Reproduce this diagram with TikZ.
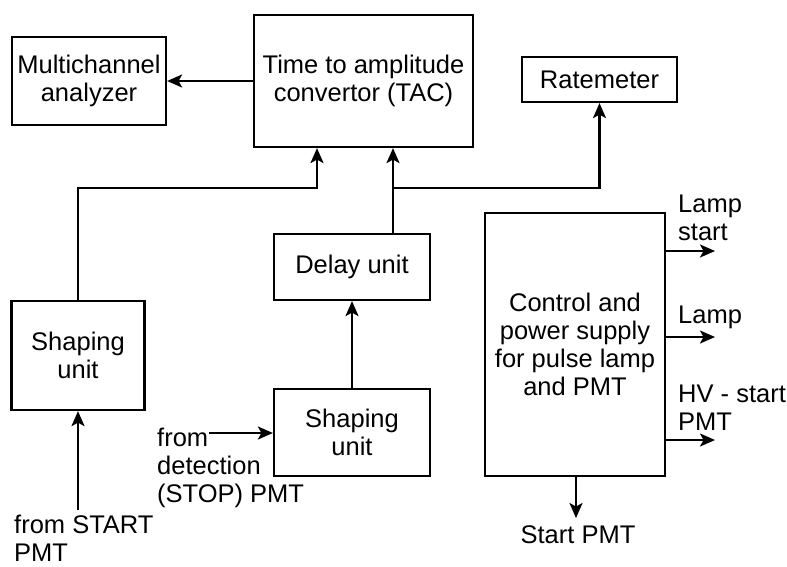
\documentclass[tikz,border=0pt]{standalone}
\usepackage{fontspec}
\setmainfont{Liberation Sans}
\usetikzlibrary{arrows.meta}
\tikzset{
  box/.style={draw, line width=2.2pt, rectangle, align=center, inner sep=0pt},
  lbl/.style={inner sep=0pt, anchor=base west},
  arr/.style={line width=2.2pt, line join=miter, -{Stealth[length=15pt, width=13pt, inset=3.5pt]}},
}
\newcommand{\lines}[1]{\begin{tabular}[t]{@{}l@{}}#1\end{tabular}}
\begin{document}
\begin{tikzpicture}[x=1pt, y=-1pt,
  every node/.style={font=\fontsize{25.5}{28}\selectfont}]
\useasboundingbox (0,0) rectangle (787,566);

% blocks
\node[box, minimum width=154pt, minimum height=88pt]  (mca)   at (89,81)      {Multichannel\\analyzer};
\node[box, minimum width=219pt, minimum height=132pt] (tac)   at (363.5,81)   {Time to amplitude\\convertor (TAC)};
\node[box, minimum width=155pt, minimum height=45pt]  (rate)  at (599.5,79.5) {Ratemeter};
\node[box, minimum width=156pt, minimum height=66pt]  (delay) at (352,267)    {Delay unit};
\node[box, minimum width=156pt, minimum height=87pt]  (shR)   at (352,432.5)  {Shaping\\unit};
\node[box, minimum width=133pt, minimum height=109pt] (shL)   at (78,355.5)   {Shaping\\unit};
\node[box, minimum width=180pt, minimum height=263pt] (ctrl)  at (575,344.5)
  {Control and\\power supply\\for pulse lamp\\and PMT};

% junctions and free ends
\coordinate (j1) at (317,188);
\coordinate (j2) at (393,188);
\coordinate (s1) at (78,510);
\coordinate (s2) at (209,433);
\coordinate (o1) at (715,251);
\coordinate (o2) at (715,337);
\coordinate (o3) at (715,440);
\coordinate (o4) at (576,518);

% signal paths
\draw[arr] (tac) -- (mca);
\draw[arr] (shL.north) |- (j1) -- (j1 |- tac.south);
\draw[arr] (j2 |- delay.north) -- (j2 |- tac.south);
\draw[arr] (j2) -| (rate.south);
\draw[arr] (shR.north) -- (delay.south);
\draw[arr] (s1) -- (s1 |- shL.south);
\draw[arr] (s2) -- (s2 -| shR.west);

% outputs of the control unit
\draw[arr] (ctrl.east |- o1) -- (o1);
\draw[arr] (ctrl.east |- o2) -- (o2);
\draw[arr] (ctrl.east |- o3) -- (o3);
\draw[arr] (o4 |- ctrl.south) -- (o4);

% labels
\node[lbl] (lStart) at (14,533)  {\lines{from START\\PMT}};
\node[lbl] (lStop)  at (157,446) {\lines{from\\detection\\(STOP) PMT}};
\node[lbl] (lLs)    at (678,212) {\lines{Lamp\\start}};
\node[lbl] (lLamp)  at (678,323) {Lamp};
\node[lbl] (lHV)    at (678,402) {\lines{HV - start\\PMT}};
\node[inner sep=0pt, anchor=base] (lSP) at (578,543) {Start PMT};
\end{tikzpicture}
\end{document}
